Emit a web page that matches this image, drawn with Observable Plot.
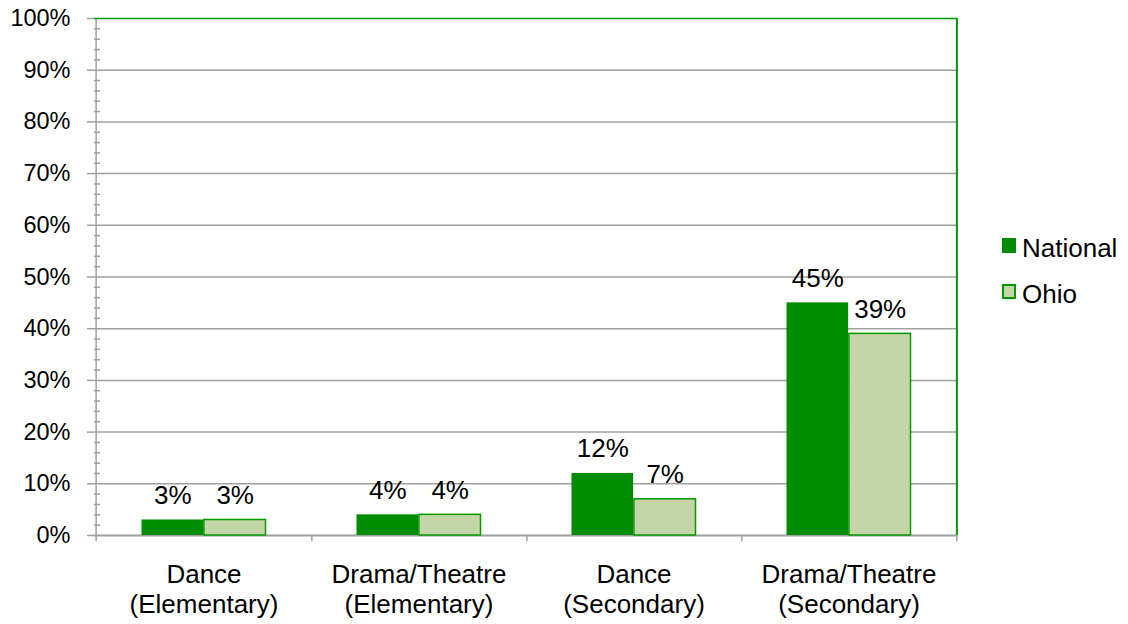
<!DOCTYPE html>
<html>
<head>
<meta charset="utf-8">
<script src="https://cdn.jsdelivr.net/npm/d3@7"></script>
<script src="https://cdn.jsdelivr.net/npm/@observablehq/plot@0.6"></script>
<style>
  body { margin: 0; background: #fff; }
  #wrap { position: relative; width: 1128px; height: 624px; font-family: "Liberation Sans", Arial, sans-serif; }
  #wrap svg { position: absolute; left: 0; top: 0; }
  .legend { position: absolute; left: 1002px; top: 233px; font-size: 26px; color: #000; }
  .legend .item { position: relative; height: 46px; line-height: 30px; padding-left: 20px; white-space: nowrap; }
  .legend .sw { position: absolute; left: 0; top: 5px; width: 14px; height: 15px; box-sizing: border-box; }
</style>
</head>
<body>
<div id="wrap"></div>
<script>
// ---- data ----
const categories = ["Dance\n(Elementary)", "Drama/Theatre\n(Elementary)", "Dance\n(Secondary)", "Drama/Theatre\n(Secondary)"];
const series = ["National", "Ohio"];
const nationalValues = [3, 4, 12, 45];
const ohioValues = [3, 4, 7, 39];
const yTicks = [0, 10, 20, 30, 40, 50, 60, 70, 80, 90, 100];
const yMinorTicks = [2, 4, 6, 8, 12, 14, 16, 18, 22, 24, 26, 28, 32, 34, 36, 38, 42, 44, 46, 48, 52, 54, 56, 58, 62, 64, 66, 68, 72, 74, 76, 78, 82, 84, 86, 88, 92, 94, 96, 98];

const national = categories.map((c, i) => ({category: c, series: "National", value: nationalValues[i]}));
const ohio = categories.map((c, i) => ({category: c, series: "Ohio", value: ohioValues[i]}));

// ---- layout / style ----
const W = 1128, H = 624, ML = 94, MR = 171, MT = 18, MB = 89;
const FW = W - ML - MR;
const BW = FW / categories.length;
const groupPad = 45.5;
const barW = (BW - 2 * groupPad) / 2;
const gray = "#a0a0a0";
const green = "#009900";
const colors = {National: "#008c00", Ohio: "#c4d6a8"};
const tickFontSize = 23.5;
const fontSize = 26;

const chart = Plot.plot({
  width: W,
  height: H,
  marginLeft: ML,
  marginRight: MR,
  marginTop: MT,
  marginBottom: MB,
  style: {fontFamily: '"Liberation Sans", Arial, sans-serif', background: "transparent", overflow: "visible"},
  x: {domain: categories, padding: 0, axis: null},
  y: {domain: [0, 100]},
  marks: [
    Plot.gridY(yTicks.filter(d => d > 0 && d < 100), {stroke: gray, strokeOpacity: 1, strokeWidth: 1.5}),
    Plot.ruleY(yMinorTicks, {stroke: gray, strokeWidth: 1.5, insetRight: FW - 6}),
    Plot.axisY(yTicks, {
      tickSize: 7, tickPadding: 17, tickFormat: d => d + "%",
      fontSize: tickFontSize, fill: "#000", stroke: gray, strokeWidth: 1.5, strokeOpacity: 1, label: null
    }),
    Plot.ruleX([categories[0]], {dx: -BW / 2, y1: -1.2, y2: 100, stroke: gray, strokeWidth: 1.5}),
    Plot.ruleX(categories, {dx: BW / 2, y1: 0, y2: -1.2, stroke: gray, strokeWidth: 1.5}),
    Plot.ruleY([0], {stroke: gray, strokeWidth: 2}),
    Plot.ruleY([100], {stroke: green, strokeWidth: 1.5}),
    Plot.ruleX([categories[categories.length - 1]], {dx: BW / 2, y1: 0, y2: 100, stroke: green, strokeWidth: 2}),
    Plot.barY(national, {x: "category", y: "value", fill: colors.National, insetLeft: groupPad, insetRight: BW - groupPad - barW}),
    Plot.barY(ohio, {x: "category", y: "value", fill: colors.Ohio, stroke: green, strokeWidth: 1.5, insetLeft: groupPad + barW, insetRight: groupPad}),
    Plot.text(national, {x: "category", y: "value", text: d => d.value + "%", dx: -barW / 2, dy: -16, lineAnchor: "bottom", fontSize, fill: "#000"}),
    Plot.text(ohio, {x: "category", y: "value", text: d => d.value + "%", dx: barW / 2, dy: -16, lineAnchor: "bottom", fontSize, fill: "#000"}),
    Plot.text(categories, {x: d => d, frameAnchor: "bottom", lineAnchor: "top", dy: 26.5, lineHeight: 1.154, text: d => d, fontSize, fill: "#000"})
  ]
});

const wrap = document.getElementById("wrap");
wrap.appendChild(chart);

const legend = document.createElement("div");
legend.className = "legend";
series.forEach(s => {
  const item = document.createElement("div");
  item.className = "item";
  const sw = document.createElement("span");
  sw.className = "sw";
  sw.style.background = colors[s];
  sw.style.border = s === "Ohio" ? `2px solid ${green}` : "none";
  item.appendChild(sw);
  item.appendChild(document.createTextNode(s));
  legend.appendChild(item);
});
wrap.appendChild(legend);
</script>
</body>
</html>
